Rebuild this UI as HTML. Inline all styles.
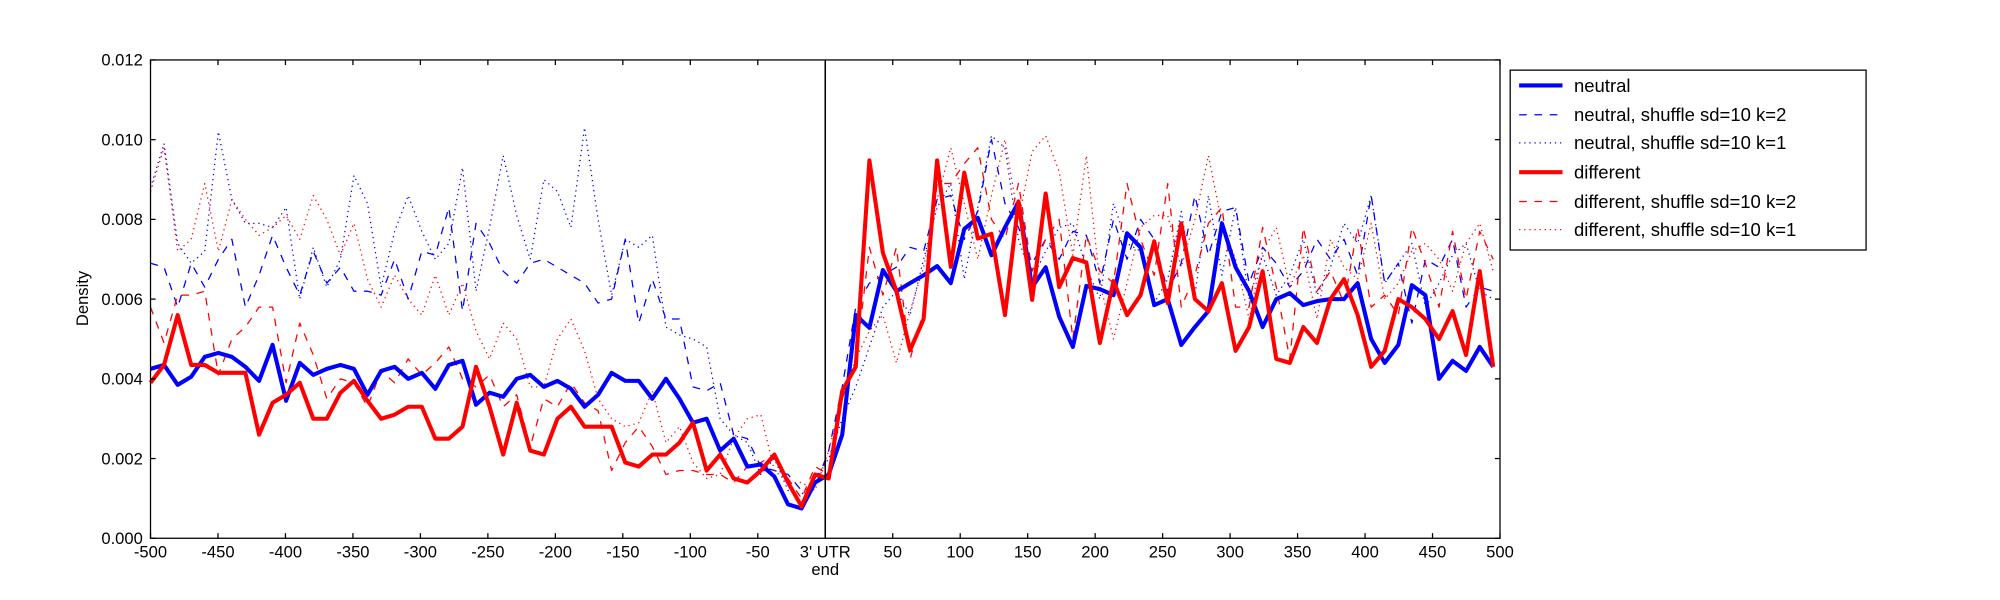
<!DOCTYPE html>
<html><head><meta charset="utf-8"><style>
html,body{margin:0;padding:0;background:#fff;}
svg{display:block;font-family:"Liberation Sans","DejaVu Sans",sans-serif;}
</style></head><body>
<svg id="s" width="2000" height="600" viewBox="0 0 1568 470.4" preserveAspectRatio="none" xmlns="http://www.w3.org/2000/svg">
<rect x="0" y="0" width="1568" height="471" fill="#fff"/>
<g id="plot"></g>
<rect x="118" y="47" width="1058" height="375" fill="none" stroke="#000" stroke-width="1"/>
<line x1="647" y1="47" x2="647" y2="422" stroke="#000" stroke-width="1.2"/>
<g id="ticks" stroke="#000" stroke-width="1"></g>
<g id="labels" font-size="13" fill="#000"></g>
<text x="69" y="234" font-size="13" text-anchor="middle" transform="rotate(-90 69 234)">Density</text>
<text x="647" y="451" font-size="13" text-anchor="middle">end</text>
<rect x="1184" y="55" width="279" height="141" fill="#fff" stroke="#000" stroke-width="1"/>
<g font-size="14.5">
<line x1="1191" y1="67" x2="1225" y2="67" stroke="#0000ff" stroke-width="3.2"/>
<text x="1234" y="72">neutral</text>
<line x1="1191" y1="90" x2="1225" y2="90" stroke="#0000ff" stroke-width="1" stroke-dasharray="6,6"/>
<text x="1234" y="95">neutral, shuffle sd=10 k=2</text>
<line x1="1191" y1="112" x2="1225" y2="112" stroke="#0000ff" stroke-width="1" stroke-dasharray="1,3"/>
<text x="1234" y="117">neutral, shuffle sd=10 k=1</text>
<line x1="1191" y1="135" x2="1225" y2="135" stroke="#ff0000" stroke-width="3.2"/>
<text x="1234" y="140">different</text>
<line x1="1191" y1="158" x2="1225" y2="158" stroke="#ff0000" stroke-width="1" stroke-dasharray="6,6"/>
<text x="1234" y="163">different, shuffle sd=10 k=2</text>
<line x1="1191" y1="180" x2="1225" y2="180" stroke="#ff0000" stroke-width="1" stroke-dasharray="1,3"/>
<text x="1234" y="185">different, shuffle sd=10 k=1</text>
</g>
</svg>
<script>
var NS="http://www.w3.org/2000/svg";
function X(v){return 118+(v+500)*1.058;}
function Y(v){return 422-v*31.25;}
var nb=[4.25,4.35,3.85,4.05,4.55,4.65,4.55,4.3,3.95,4.85,3.45,4.4,4.1,4.25,4.35,4.25,3.6,4.2,4.3,4.0,4.15,3.75,4.35,4.45,3.35,3.65,3.55,4.0,4.1,3.8,3.95,3.75,3.3,3.6,4.15,3.95,3.95,3.5,4.0,3.5,2.9,3.0,2.2,2.5,1.8,1.85,1.55,0.85,0.75,1.4,
1.6,2.6,5.6,5.28,6.73,6.2,6.4,6.6,6.83,6.4,7.76,8.04,7.1,7.8,8.44,6.3,6.8,5.56,4.8,6.33,6.25,6.1,7.65,7.3,5.85,6.0,4.85,5.3,5.7,7.9,6.8,6.2,5.3,6.0,6.15,5.85,5.95,6.0,6.0,6.4,5.0,4.4,4.85,6.35,6.1,4.0,4.45,4.2,4.8,4.3];
var rd=[3.9,4.35,5.6,4.35,4.35,4.15,4.15,4.15,2.6,3.4,3.6,3.9,3.0,3.0,3.65,3.95,3.45,3.0,3.1,3.3,3.3,2.5,2.5,2.8,4.3,3.3,2.1,3.4,2.2,2.1,3.0,3.3,2.8,2.8,2.8,1.9,1.8,2.1,2.1,2.4,2.9,1.7,2.1,1.5,1.4,1.7,2.1,1.4,0.8,1.6,
1.5,3.7,4.3,9.48,7.16,6.2,4.72,5.5,9.48,6.81,9.17,7.52,7.64,5.6,8.45,5.98,8.65,6.3,7.03,6.92,4.9,6.45,5.6,6.1,7.45,5.9,7.9,6.0,5.7,6.4,4.7,5.3,6.7,4.5,4.4,5.3,4.9,6.0,6.5,5.6,4.3,4.7,6.0,5.8,5.5,5.0,5.7,4.6,6.7,4.3];
var nd=[6.9,6.8,5.8,6.9,6.3,7.0,7.5,5.8,6.6,7.6,6.8,6.1,7.2,6.4,6.8,6.2,6.2,6.1,7.0,6.0,7.2,7.1,8.3,5.7,7.9,7.4,6.7,6.4,6.9,7.0,6.8,6.6,6.4,5.9,6.0,7.5,5.4,6.5,5.5,5.5,3.8,3.7,3.9,2.6,2.5,1.8,1.7,1.6,1.2,1.3,
2.2,3.8,5.8,6.4,6.6,6.8,7.3,7.2,8.5,8.6,7.5,8.2,10.0,8.4,7.8,6.9,7.5,7.0,7.7,7.6,6.4,8.0,7.0,8.0,7.5,6.2,6.9,8.6,7.1,8.2,8.3,6.4,7.3,6.9,6.3,6.7,7.5,7.0,7.5,6.6,8.6,6.4,6.9,5.4,7.0,6.8,7.5,5.8,6.3,6.2];
var nt=[8.8,9.9,7.4,6.9,7.2,10.2,8.5,7.9,7.9,7.8,8.3,6.0,7.3,6.3,7.0,9.1,8.4,6.3,7.7,8.6,7.7,7.0,7.4,9.3,6.2,7.8,9.6,8.1,7.0,9.0,8.7,7.8,10.3,8.0,6.1,7.5,7.3,7.6,5.3,5.1,5.0,4.8,3.0,2.6,2.4,1.6,2.0,1.2,1.1,1.5,
2.0,3.0,3.8,4.8,5.8,6.2,5.6,7.0,8.3,8.9,6.5,8.3,10.1,9.8,7.5,6.5,7.2,7.8,7.9,6.8,6.0,8.4,7.4,7.2,5.9,6.5,8.2,6.1,8.6,6.6,8.3,6.0,7.1,6.1,6.6,7.5,6.1,6.8,7.9,7.4,8.6,6.4,6.9,7.4,5.8,6.4,7.1,7.4,6.2,6.0];
var rdd=[5.8,4.9,6.1,6.1,6.2,4.1,5.0,5.3,5.8,5.8,3.9,5.4,4.6,3.5,4.0,3.9,3.3,4.2,3.9,4.5,4.1,4.4,4.8,4.0,3.8,4.1,3.3,3.6,2.3,3.5,3.3,3.9,3.4,3.2,1.7,2.4,2.8,2.3,1.6,1.7,1.7,1.6,1.6,1.4,1.8,1.9,2.1,1.5,1.0,1.8,
1.6,3.5,4.4,7.3,6.1,7.3,4.5,5.7,8.9,8.9,9.4,9.8,8.0,7.5,8.9,6.7,7.5,8.0,5.0,7.6,6.7,6.4,8.9,7.5,6.6,8.9,5.8,6.6,7.9,8.3,5.8,5.8,7.8,6.3,4.5,7.8,6.2,6.7,5.9,7.8,5.8,6.1,5.6,7.8,6.9,5.8,7.7,6.0,7.7,7.0];
var rdt=[8.7,9.8,7.2,7.5,8.9,7.2,8.5,8.0,7.6,7.8,8.1,7.5,8.6,8.0,7.1,7.9,6.5,5.8,6.6,6.0,5.6,6.6,5.6,6.4,5.2,4.5,5.4,5.0,3.8,3.8,5.0,5.5,4.7,3.5,3.0,2.8,2.9,3.7,2.4,2.8,1.9,1.5,1.6,2.5,3.0,3.1,1.7,1.4,1.4,1.2,
2.2,3.5,4.5,5.2,5.6,4.4,5.7,6.8,8.5,9.8,8.4,7.0,8.6,10.0,8.0,9.7,10.1,9.2,7.1,9.6,6.4,5.0,6.4,7.8,8.1,8.1,6.8,8.0,9.6,7.9,7.0,5.5,7.2,7.8,6.3,7.1,5.5,7.5,6.8,6.5,7.9,6.0,6.4,7.2,7.4,7.0,6.2,7.4,7.9,6.7];
var g=document.getElementById("plot");
function line(d,col,w,dash){var p=document.createElementNS(NS,"polyline");var pts=d.map(function(v,i){return X(-500+i*995/99).toFixed(1)+","+Y(v).toFixed(1);}).join(" ");
p.setAttribute("points",pts);p.setAttribute("fill","none");p.setAttribute("stroke",col);p.setAttribute("stroke-width",w);p.setAttribute("stroke-linejoin","round");if(dash)p.setAttribute("stroke-dasharray",dash);g.appendChild(p);}
line(nd,"#0000ff",1,"6,6");line(nt,"#0000ff",1,"1,3");line(rdd,"#ff0000",1,"6,6");line(rdt,"#ff0000",1,"1,3");
line(nb,"#0000ff",3.2);line(rd,"#ff0000",3.2);
var t=document.getElementById("ticks"),L=document.getElementById("labels");
function mk(tag,a,par,txt){var e=document.createElementNS(NS,tag);for(var k in a)e.setAttribute(k,a[k]);if(txt!==undefined)e.textContent=txt;par.appendChild(e);}
for(var v=-500;v<=500;v+=50){var x=X(v);mk("line",{x1:x,y1:422,x2:x,y2:418},t);mk("line",{x1:x,y1:47,x2:x,y2:51},t);
mk("text",{x:x,y:437,"text-anchor":"middle"},L,v==0?"3' UTR":String(v));}
for(var i=0;i<=12;i+=2){var y=Y(i);mk("line",{x1:118,y1:y,x2:122,y2:y},t);mk("line",{x1:1176,y1:y,x2:1172,y2:y},t);
mk("text",{x:112,y:y+4.5,"text-anchor":"end"},L,(i/1000).toFixed(3));}
</script>
</body></html>
